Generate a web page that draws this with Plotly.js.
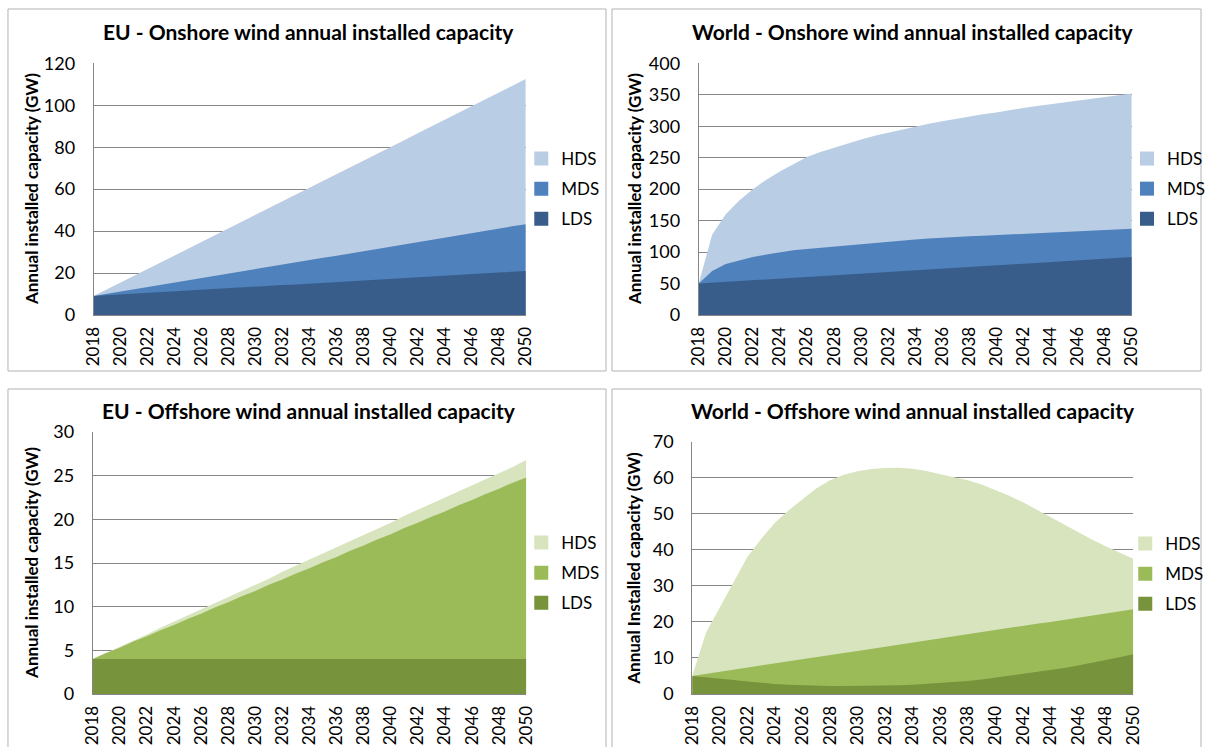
<!DOCTYPE html>
<html>
<head>
<meta charset="utf-8">
<script src="https://cdn.plot.ly/plotly-3.0.1.min.js"></script>
<style>
  html, body { margin: 0; padding: 0; background: #ffffff; }
  #chart { width: 1210px; height: 747px; }
</style>
</head>
<body>
<div id="chart"></div>
<script>
// Years on the category axis
const years = [2018, 2019, 2020, 2021, 2022, 2023, 2024, 2025, 2026, 2027, 2028,
  2029, 2030, 2031, 2032, 2033, 2034, 2035, 2036, 2037, 2038, 2039, 2040,
  2041, 2042, 2043, 2044, 2045, 2046, 2047, 2048, 2049, 2050];

const scenarios = ['HDS', 'MDS', 'LDS'];

// EU - Onshore wind annual installed capacity (GW)
const euOnshoreHDS = [9, 12.2, 15.5, 18.7, 21.9, 25.2, 28.4, 31.6, 34.9, 38.1, 41.3,
  44.6, 47.8, 51.0, 54.2, 57.5, 60.7, 63.9, 67.2, 70.4, 73.6, 76.9, 80.1,
  83.3, 86.6, 89.8, 93.0, 96.3, 99.5, 102.7, 106.0, 109.2, 112.5];
const euOnshoreMDS = [9, 10.1, 11.1, 12.2, 13.3, 14.4, 15.4, 16.5, 17.6, 18.6, 19.7,
  20.8, 21.9, 23.0, 24.0, 25.1, 26.2, 27.3, 28.3, 29.4, 30.5, 31.6, 32.6,
  33.7, 34.8, 35.8, 36.9, 38.0, 39.1, 40.1, 41.2, 42.3, 43.3];
const euOnshoreLDS = [9, 9.4, 9.8, 10.1, 10.5, 10.9, 11.3, 11.6, 12.0, 12.4, 12.8,
  13.1, 13.5, 13.9, 14.3, 14.6, 15.0, 15.4, 15.8, 16.1, 16.5, 16.9, 17.3,
  17.6, 18.0, 18.4, 18.8, 19.1, 19.5, 19.9, 20.3, 20.6, 21.0];

// World - Onshore wind annual installed capacity (GW)
const worldOnshoreHDS = [50, 128, 160, 182, 200, 215, 228, 240, 251, 259, 266,
  273, 279, 285, 290, 295, 300, 304, 308, 312, 316, 319, 322,
  326, 329, 332, 335, 338, 341, 344, 347, 349, 352];
const worldOnshoreMDS = [50, 70, 81, 87, 92, 96, 100, 103, 105, 107, 109,
  111, 113, 115, 117, 118.5, 120, 121.5, 123, 124, 125, 126, 127,
  128.5, 130, 131, 132, 133, 133.5, 134, 135, 136, 137];
const worldOnshoreLDS = [50, 51.3, 52.6, 53.9, 55.3, 56.6, 57.9, 59.2, 60.5, 61.8, 63.1,
  64.4, 65.8, 67.1, 68.4, 69.7, 71.0, 72.3, 73.6, 74.9, 76.3, 77.6, 78.9,
  80.2, 81.5, 82.8, 84.1, 85.4, 86.8, 88.1, 89.4, 90.7, 92.0];

// EU - Offshore wind annual installed capacity (GW)
const euOffshoreHDS = [4.0, 4.7, 5.4, 6.1, 6.8, 7.6, 8.3, 9.0, 9.7, 10.4, 11.1,
  11.8, 12.5, 13.2, 14.0, 14.7, 15.4, 16.1, 16.8, 17.5, 18.2, 18.9, 19.6,
  20.4, 21.1, 21.8, 22.5, 23.2, 23.9, 24.6, 25.3, 26.0, 26.8];
const euOffshoreMDS = [4.0, 4.7, 5.3, 6.0, 6.6, 7.3, 7.9, 8.6, 9.2, 9.9, 10.5,
  11.2, 11.8, 12.5, 13.1, 13.8, 14.4, 15.1, 15.7, 16.4, 17.0, 17.7, 18.3,
  19.0, 19.6, 20.3, 20.9, 21.6, 22.2, 22.9, 23.5, 24.2, 24.8];
const euOffshoreLDS = [4, 4, 4, 4, 4, 4, 4, 4, 4, 4, 4,
  4, 4, 4, 4, 4, 4, 4, 4, 4, 4, 4, 4,
  4, 4, 4, 4, 4, 4, 4, 4, 4, 4];

// World - Offshore wind annual installed capacity (GW)
const worldOffshoreHDS = [5, 17, 24, 31, 38, 43, 47.5, 51, 54, 57, 59.3,
  60.8, 61.8, 62.4, 62.7, 62.8, 62.5, 61.9, 61.0, 60.2, 59.3, 58.1, 56.6,
  55.0, 53.2, 51.1, 49.0, 46.9, 44.8, 42.9, 41.0, 39.2, 37.5];
const worldOffshoreMDS = [5.0, 5.6, 6.2, 6.7, 7.3, 7.9, 8.5, 9.0, 9.6, 10.2, 10.8,
  11.4, 11.9, 12.5, 13.1, 13.7, 14.2, 14.8, 15.4, 16.0, 16.6, 17.1, 17.7,
  18.3, 18.9, 19.5, 20.0, 20.6, 21.2, 21.8, 22.4, 22.9, 23.5];
const worldOffshoreLDS = [5.0, 4.7, 4.4, 3.9, 3.5, 3.1, 2.8, 2.6, 2.4, 2.3, 2.2,
  2.2, 2.2, 2.2, 2.3, 2.4, 2.6, 2.8, 3.0, 3.3, 3.6, 4.0, 4.5,
  5.0, 5.5, 6.0, 6.6, 7.2, 7.9, 8.6, 9.4, 10.2, 11.0];

const blues = ['#b9cde5', '#4f81bd', '#385d8a'];
const greens = ['#d7e4bd', '#9bbb59', '#77933c'];

const W = 1210, H = 747;
const px = x => x / W;
const py = y => 1 - y / H;

const FONT = 'Lato, "Open Sans", "DejaVu Sans", sans-serif';

const panels = [
  { title: 'EU - Onshore wind annual installed capacity',
    ytitle: 'Annual installed capacity (GW)',
    series: [euOnshoreHDS, euOnshoreMDS, euOnshoreLDS], colors: blues,
    yrange: [0, 120], dtick: 20,
    plot: [94, 527.5, 63.3, 315], frame: [8, 608, 9, 371],
    titleX: 310, titleY: 32, ytitleX: 31, legend: [523, 141] },
  { title: 'World - Onshore wind annual installed capacity',
    ytitle: 'Annual installed capacity (GW)',
    series: [worldOnshoreHDS, worldOnshoreMDS, worldOnshoreLDS], colors: blues,
    yrange: [0, 400], dtick: 50,
    plot: [701, 1135.5, 63.3, 315], frame: [614, 1205, 9, 371],
    titleX: 916, titleY: 32, ytitleX: 636, legend: [1131, 141] },
  { title: 'EU - Offshore wind annual installed capacity',
    ytitle: 'Annual installed capacity (GW)',
    series: [euOffshoreHDS, euOffshoreMDS, euOffshoreLDS], colors: greens,
    yrange: [0, 30], dtick: 5,
    plot: [93, 528, 432, 694], frame: [8, 608, 389, 770],
    titleX: 310, titleY: 411, ytitleX: 31, legend: [523, 525] },
  { title: 'World - Offshore wind annual installed capacity',
    ytitle: 'Annual Installed capacity (GW)',
    series: [worldOffshoreHDS, worldOffshoreMDS, worldOffshoreLDS], colors: greens,
    yrange: [0, 70], dtick: 10,
    plot: [694.5, 1137, 441.7, 694], frame: [614, 1205, 389, 770],
    titleX: 916, titleY: 411, ytitleX: 636, legend: [1129, 526] }
];

const data = [];
const layout = {
  width: W, height: H,
  margin: { l: 0, r: 0, t: 0, b: 0 },
  paper_bgcolor: '#ffffff',
  plot_bgcolor: '#ffffff',
  font: { family: FONT, size: 17, color: '#000000' },
  showlegend: true,
  annotations: [],
  shapes: []
};

panels.forEach((p, i) => {
  const n = i + 1;
  const xa = 'x' + (n === 1 ? '' : n);
  const ya = 'y' + (n === 1 ? '' : n);
  const lg = 'legend' + (n === 1 ? '' : n);

  // Overlapping areas: the largest scenario is drawn first, the smallest on top
  p.series.forEach((vals, k) => {
    data.push({
      type: 'scatter', mode: 'lines', x: years, y: vals,
      xaxis: xa, yaxis: ya, fill: 'tozeroy',
      fillcolor: p.colors[k], line: { width: 0, color: p.colors[k] },
      name: scenarios[k], showlegend: false, hoverinfo: 'x+y+name'
    });
  });
  // Square legend keys
  scenarios.forEach((s, k) => {
    data.push({
      type: 'scatter', mode: 'markers', x: [null], y: [null],
      xaxis: xa, yaxis: ya, name: s, legend: lg, legendgroup: lg + s,
      marker: { symbol: 'square', size: 14, color: p.colors[k] },
      showlegend: true
    });
  });

  const [l, r, t, b] = p.plot;
  layout['xaxis' + (n === 1 ? '' : n)] = {
    domain: [px(l), px(r)], anchor: ya, range: [2018, 2050],
    tickmode: 'linear', tick0: 2018, dtick: 2, tickangle: -90,
    showgrid: false, zeroline: false, showline: true, linecolor: '#868686',
    ticks: '', ticklabelstandoff: 4,
    tickfont: { family: FONT, size: 17, color: '#000000' }
  };
  layout['yaxis' + (n === 1 ? '' : n)] = {
    domain: [py(b), py(t)], anchor: xa, range: p.yrange,
    tickmode: 'linear', tick0: 0, dtick: p.dtick,
    showgrid: true, gridcolor: '#868686', gridwidth: 1,
    zeroline: false, showline: true, linecolor: '#868686',
    ticks: '', ticklabelstandoff: 14,
    tickfont: { family: FONT, size: 18, color: '#000000' }
  };
  layout[lg] = {
    x: px(p.legend[0]), y: py(p.legend[1]), xanchor: 'left', yanchor: 'top',
    xref: 'paper', yref: 'paper',
    bgcolor: 'rgba(0,0,0,0)', borderwidth: 0,
    font: { family: FONT, size: 17, color: '#000000' },
    itemwidth: 30, traceorder: 'grouped', tracegroupgap: 5,
    itemclick: false, itemdoubleclick: false
  };

  layout.annotations.push({
    text: '<b>' + p.title + '</b>', xref: 'paper', yref: 'paper',
    x: px(p.titleX), y: py(p.titleY), xanchor: 'center', yanchor: 'middle',
    showarrow: false, font: { family: FONT, size: 21, color: '#000000' }
  });
  layout.annotations.push({
    text: '<b>' + p.ytitle + '</b>', xref: 'paper', yref: 'paper',
    x: px(p.ytitleX), y: py((t + b) / 2), xanchor: 'center', yanchor: 'middle',
    textangle: -90, showarrow: false,
    font: { family: FONT, size: 17, color: '#000000' }
  });

  const [fx0, fx1, fy0, fy1] = p.frame;
  layout.shapes.push({
    type: 'rect', xref: 'paper', yref: 'paper',
    x0: px(fx0), x1: px(fx1), y0: py(fy0), y1: py(fy1),
    line: { color: '#b3b3b3', width: 1 }, fillcolor: 'rgba(0,0,0,0)', layer: 'below'
  });
});

Plotly.newPlot('chart', data, layout, { displayModeBar: false, staticPlot: true });
</script>
</body>
</html>
